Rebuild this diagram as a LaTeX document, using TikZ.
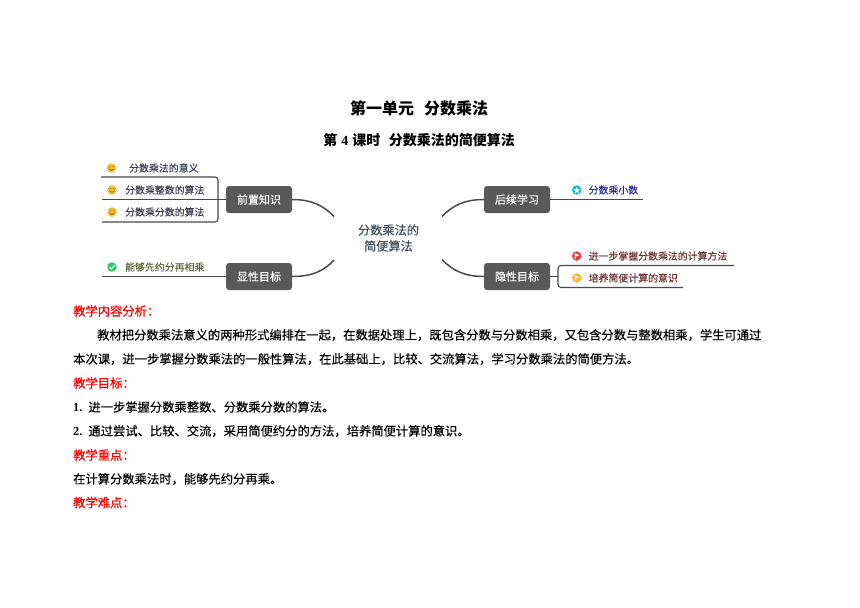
\documentclass[tikz,border=0pt]{standalone}
\usepackage{fontspec}
\setmainfont{Liberation Serif}
\newfontfamily\cjk{Noto Sans CJK SC}
\newfontfamily\cjkmid[FakeBold=0.25]{Noto Sans CJK SC}
\newfontfamily\cjkhead[FakeBold=0.7]{Noto Sans CJK SC}
\usepackage{xcolor}
\definecolor{boxgray}{HTML}{595959}
\definecolor{linegray}{HTML}{4A4A4A}
\definecolor{rootink}{HTML}{3E4C5C}
\definecolor{leafink}{HTML}{3A4250}
\definecolor{oliveink}{HTML}{5C6B3C}
\definecolor{blueink}{HTML}{2C2C96}
\definecolor{wineink}{HTML}{6E3232}
\definecolor{smileyellow}{HTML}{F8BC2C}
\definecolor{okgreen}{HTML}{2CC45C}
\definecolor{starblue}{HTML}{18B4E4}
\definecolor{flagred}{HTML}{E83C3C}
\definecolor{headred}{HTML}{FF0000}
\tikzset{
  branchbox/.style={fill=boxgray, rounded corners=3pt, minimum width=66pt, minimum height=27pt, inner sep=0pt, text=white, font=\cjkmid\fontsize{11}{11}\selectfont},
  leaftext/.style={anchor=west, inner sep=0pt, font=\cjkmid\fontsize{9.9}{10}\selectfont},
  bodytext/.style={anchor=west, inner sep=0pt, text=black, font=\cjkmid\fontsize{12.3}{12.3}\selectfont},
  headtext/.style={anchor=west, inner sep=0pt, text=headred, font=\cjkhead\fontsize{12.3}{12.3}\selectfont},
  icondot/.style={circle, inner sep=0pt, minimum size=9.5pt},
  mapline/.style={draw=linegray, line width=1.1pt},
  rootline/.style={draw=linegray, line width=1.5pt}
}
\begin{document}
\begin{tikzpicture}[x=1pt,y=-1pt]
\useasboundingbox (0,0) rectangle (860,608);

% Titles
\node[inner sep=0pt, font=\cjk\bfseries\fontsize{16}{16}\selectfont] (title) at (419,108) {第一单元\hspace{10pt}分数乘法};
\node[inner sep=0pt, font=\bfseries\fontsize{14}{14}\selectfont] (subtitle) at (419,140) {{\cjk 第}\hspace{4pt}4\hspace{4pt}{\cjk 课时}\hspace{8.5pt}{\cjk 分数乘法的简便算法}};

% Center of the map
\node[inner sep=0pt, align=center, text=rootink, font=\cjkmid\fontsize{12.2}{16}\selectfont] (root) at (388.5,238) {分数乘法的\\简便算法};
\coordinate (rootNW) at (334,216.5);
\coordinate (rootSW) at (334,260);
\coordinate (rootNE) at (442,216.5);
\coordinate (rootSE) at (442,259.5);

% Four branches
\node[branchbox] (prior) at (259,199.5) {前置知识};
\node[branchbox] (shown) at (259,276.5) {显性目标};
\node[branchbox] (later) at (517,199.5) {后续学习};
\node[branchbox] (hidden) at (517,276.5) {隐性目标};

\draw[rootline] (prior.east) .. controls (312,199.5) and (324,206) .. (rootNW);
\draw[rootline] (shown.east) .. controls (312,276.5) and (324,271) .. (rootSW);
\draw[rootline] (later.west) .. controls (464,199.5) and (452,206) .. (rootNE);
\draw[rootline] (hidden.west) .. controls (464,276.5) and (452,270) .. (rootSE);

% Left leaves
\node[leaftext, text=leafink] (meaning) at (129,168) {分数乘法的意义};
\node[leaftext, text=leafink] (integer) at (125,190) {分数乘整数的算法};
\node[leaftext, text=leafink] (fraction) at (125,212) {分数乘分数的算法};
\node[leaftext, text=oliveink] (reduce) at (125,267) {能够先约分再相乘};

% Right leaves
\node[leaftext, text=blueink] (decimal) at (588.5,190) {分数乘小数};
\node[leaftext, text=wineink] (master) at (588.5,256) {进一步掌握分数乘法的计算方法};
\node[leaftext, text=wineink] (sense) at (588.5,278) {培养简便计算的意识};

% Lines under the leaves
\coordinate (meaningL) at (101,177);
\coordinate (integerL) at (102,199.5);
\coordinate (fractionL) at (102,222);
\coordinate (reduceL) at (102,276.5);
\coordinate (decimalR) at (643,199.5);
\coordinate (masterR) at (734,265.5);
\coordinate (senseR) at (683,287.5);

\draw[mapline] (prior.west) -- (integerL);
\draw[mapline, rounded corners=3pt] (meaningL) -- (218,177) -- (218,222) -- (fractionL);
\draw[mapline] (shown.west) -- (reduceL);
\draw[mapline] (later.east) -- (decimalR);
\draw[mapline] (hidden.east) -- (558,276.5);
\draw[mapline, rounded corners=3pt] (masterR) -- (558,265.5) -- (558,287.5) -- (senseR);

% Icons
\foreach \i/\x/\y in {1/111.5/168, 2/112/190, 3/112/212} {
    \node[icondot, fill=smileyellow] (smile\i) at (\x,\y) {};
    \draw[black!70, line width=0.5pt] (\x-2.4,\y+0.8) .. controls (\x-1,\y+3) and (\x+1,\y+3) .. (\x+2.4,\y+0.8);
    \fill[black!70] (\x-1.7,\y-1.5) circle (0.55pt) (\x+1.7,\y-1.5) circle (0.55pt);
}
\node[icondot, fill=okgreen] (check) at (112,267) {};
\draw[white, line width=1.1pt] (109.5,267) -- (111.3,269) -- (114.8,265);
\node[icondot, fill=starblue] (star) at (576.7,190) {};
\fill[white] (576.7,186.8) -- (577.6,189) -- (580,189.2) -- (578.2,190.8) -- (578.8,193.2) -- (576.7,191.9) -- (574.6,193.2) -- (575.2,190.8) -- (573.4,189.2) -- (575.8,189) -- cycle;
\node[icondot, fill=flagred] (flagA) at (576.7,256) {};
\node[icondot, fill=smileyellow!90!orange] (flagB) at (576.7,278) {};
\foreach \y in {256,278} {
    \fill[white] (574.6,\y-2.8) -- (579.6,\y-0.8) -- (575.6,\y+0.8) -- (575.6,\y+3) -- (574.6,\y+3) -- cycle;
}

% Text of the page
\node[headtext] (analysis) at (73,311) {教学内容分析：};
\node[bodytext] (lineA) at (97,335) {教材把分数乘法意义的两种形式编排在一起，在数据处理上，既包含分数与分数相乘，又包含分数与整数相乘，学生可通过};
\node[bodytext] (lineB) at (73,359) {本次课，进一步掌握分数乘法的一般性算法，在此基础上，比较、交流算法，学习分数乘法的简便方法。};
\node[headtext] (goals) at (73,383) {教学目标：};
\node[bodytext] (goalA) at (73,407) {{\rmfamily\bfseries 1.}\hspace{6pt}进一步掌握分数乘整数、分数乘分数的算法。};
\node[bodytext] (goalB) at (73,431) {{\rmfamily\bfseries 2.}\hspace{6pt}通过尝试、比较、交流，采用简便约分的方法，培养简便计算的意识。};
\node[headtext] (focus) at (73,455) {教学重点：};
\node[bodytext] (focusA) at (73,479) {在计算分数乘法时，能够先约分再乘。};
\node[headtext] (hard) at (73,502.5) {教学难点：};
\end{tikzpicture}
\end{document}
